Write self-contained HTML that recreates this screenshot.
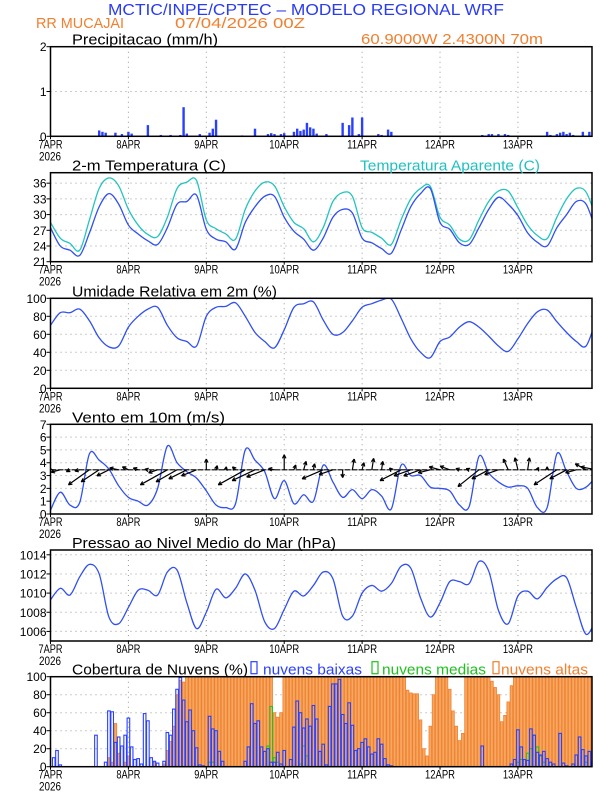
<!DOCTYPE html>
<html><head><meta charset="utf-8"><style>
html,body{margin:0;padding:0;background:#fff}
svg{display:block}
text{font-family:"Liberation Sans",sans-serif}
</style></head><body>
<svg id="c" width="612" height="792" viewBox="0 0 612 792" xmlns="http://www.w3.org/2000/svg">
<text x="108" y="15" font-size="16" fill="#2a3cf0" textLength="396" lengthAdjust="spacingAndGlyphs">MCTIC/INPE/CPTEC – MODELO REGIONAL WRF</text>
<text x="36" y="28" font-size="15" fill="#f08030" textLength="88" lengthAdjust="spacingAndGlyphs">RR MUCAJAI</text>
<text x="175" y="28" font-size="15" fill="#f08030" textLength="130" lengthAdjust="spacingAndGlyphs">07/04/2026 00Z</text>
<text x="361" y="44" font-size="15" fill="#f08030" textLength="182" lengthAdjust="spacingAndGlyphs">60.9000W 2.4300N 70m</text>
<g id="g"></g>
</svg>
<script>
// ---- data ----
const dayLabels = ["7APR","8APR","9APR","10APR","11APR","12APR","13APR"];
const precipHours = [15,16,17,20,22,24,25,30,34,37,40,41,42,46,49,50,51,59,63,67,68,69,71,72,75,76,77,78,79,80,81,82,85,90,92,93,95,96,101,102,104,105,133,135,136,138,140,141,153,154,156,157,158,159,160,161,164,166];
const precipValues = [0.13,0.1,0.08,0.08,0.05,0.1,0.06,0.25,0.03,0.03,0.03,0.65,0.06,0.05,0.08,0.17,0.37,0.02,0.17,0.05,0.07,0.05,0.05,0.07,0.1,0.17,0.12,0.15,0.3,0.2,0.17,0.06,0.05,0.3,0.25,0.42,0.05,0.42,0.05,0.03,0.15,0.1,0.03,0.05,0.05,0.05,0.05,0.03,0.1,0.03,0.05,0.08,0.1,0.05,0.08,0.03,0.1,0.1];
// 3-hourly series (0..168h)
const temp2m = [27.5,24.0,23.2,22.2,26.5,31.5,34.0,32.0, 28.0,26.3,25.0,24.3,27.5,32.0,32.5,33.7, 27.2,25.3,24.8,23.4,28.5,31.5,33.5,33.5, 29.5,26.8,25.3,23.2,25.5,29.5,31.0,30.3, 25.5,24.6,23.5,22.6,27.0,31.5,34.0,35.0, 28.5,27.2,24.6,24.3,27.5,31.0,33.3,32.0, 29.8,26.5,24.7,24.0,27.5,30.0,32.5,32.0,27.0];
const tempApparent = [28.5,25.5,24.5,23.2,29.0,35.0,37.0,35.5, 31.0,28.0,26.2,25.8,29.5,35.0,36.2,36.5, 29.0,27.3,26.3,25.3,31.0,34.5,36.2,35.5, 31.5,28.5,27.3,24.8,27.5,32.5,34.2,33.5, 27.5,26.6,25.5,24.3,29.0,33.0,35.0,35.4, 29.5,28.0,25.3,25.2,29.0,32.5,34.5,34.5, 31.3,28.0,26.0,25.4,29.5,33.0,35.0,34.3,29.5];
const humidity = [70,84,84,88,75,56,46,47, 68,80,88,90,70,56,52,47, 80,90,91,95,80,62,52,45, 65,90,94,96,76,60,62,75, 90,94,98,99,78,55,40,34, 52,57,68,74,68,58,47,41, 55,72,85,87,74,62,52,47,75];
const windSpeed = [0.3,1.7,0.7,0.9,4.7,4.2,3.5,2.2, 1.3,1.0,0.7,2.0,5.3,4.0,3.3,2.8, 1.8,0.7,0.5,0.8,5.0,4.2,3.3,1.2, 2.6,0.8,1.5,1.0,3.8,2.5,1.3,1.9, 1.2,1.9,1.4,0.4,3.8,3.0,3.0,2.1, 2.0,1.8,0.7,0.6,4.5,3.2,2.5,2.1, 2.2,2.0,0.5,0.5,4.7,3.3,2.0,2.1,2.9];
const windU = [-0.2,-1.5,-0.6,-0.8,-3.5,-3,-2,-1.5, -1,-0.8,-0.5,-1.5,-4.5,-3.5,-3,-2.5, 0,0.2,0.1,-0.5,-4.5,-3.8,-3,-1, 0,0.3,0.4,0.2,-3.5,-2.3,0,0.3, 0.3,0.3,0.2,-0.3,-3.5,-2.8,-2.8,-2, -1.8,-1.6,-0.6,-0.5,-3.5,-2.8,-2.3,-0.8, -0.5,0.3,0.2,0,-3.8,-2.8,-1.8,-1.8,-2.5];
const windV = [0.3,-0.4,-0.3,-0.2,-2.5,-2,-1,0.3, 0.5,0.3,0.1,-0.5,-2.5,-2,-1.5,-1, 1.8,0.7,0.5,0.5,-2.5,-1.8,-1.2,0.2, 2.5,0.8,1.4,1,-1.5,-0.8,-1.3,1.8, 1.2,1.9,1.4,0.3,-1.8,-1,-1,-0.5, 0.5,0.6,0.2,0.2,-2.8,-1.5,-0.8,1.8, 2,2,0.4,0.5,-2.5,-1.5,-0.5,1,0.5];
const pressure = [1009.3,1010.5,1009.8,1011.7,1013.0,1012.0,1007.5,1006.8, 1008.5,1010.3,1010.3,1009.8,1012.2,1012.4,1009.0,1006.3, 1008.0,1010.4,1009.5,1010.5,1012.0,1010.3,1007.0,1006.3, 1008.3,1010.2,1009.7,1010.8,1012.2,1011.5,1007.6,1007.6, 1010.0,1010.8,1010.2,1011.0,1012.8,1012.6,1009.5,1007.5, 1009.0,1011.2,1011.2,1011.0,1013.3,1012.3,1008.2,1006.8, 1009.7,1010.2,1009.4,1010.6,1011.5,1011.6,1008.5,1005.7,1007.2];
// hourly cloud cover (%)
const cloudLow = [0,10,18,2,0,0,0,0,0,0,0,0,0,0,35,0,0,5,62,61,27,33,23,35,
 54,22,8,9,3,59,51,10,6,4,0,6,38,35,64,86,99,74,50,63,40,21,2,1,
 0,56,42,40,17,6,0,0,0,0,0,0,6,22,70,48,51,22,17,20,5,5,16,3,
 18,0,8,44,73,60,43,53,45,68,53,17,25,2,67,92,92,97,58,48,71,46,18,20,
 27,31,22,14,16,31,25,9,2,1,0,0,0,0,0,0,0,0,0,0,0,0,0,0,
 0,0,0,0,0,0,0,0,0,0,0,0,0,23,0,0,0,0,0,0,0,0,3,8,
 41,22,8,7,42,35,16,13,17,9,5,3,0,37,4,1,0,3,13,33,19,12,17,5];
const cloudMid = [0,0,0,0,0,0,0,0,0,0,0,0,0,0,0,0,0,0,0,0,0,0,0,0,
 0,0,0,0,0,0,0,0,0,0,0,0,0,0,0,0,0,0,0,0,0,0,0,0,
 0,5,5,0,0,0,0,0,0,0,0,0,0,0,0,0,0,0,0,23,67,10,5,0,
 0,0,0,0,0,3,23,12,0,0,0,0,0,0,0,0,0,0,0,0,0,0,0,0,
 0,0,0,0,0,0,0,0,0,0,0,0,0,0,0,0,0,0,0,0,0,0,0,0,
 0,0,0,0,0,0,0,0,0,0,0,0,0,0,0,0,0,0,0,0,0,0,0,0,
 5,8,8,15,20,35,22,12,5,0,0,0,0,0,0,0,0,0,0,0,0,5,0,0];
const cloudHigh = [0,0,0,0,0,0,0,0,0,0,0,0,0,0,0,0,0,0,10,5,48,15,0,5,
 12,0,0,0,0,0,0,0,5,0,0,3,18,28,45,80,96,94,100,100,100,100,100,100,
 100,100,100,100,100,100,100,100,100,100,100,100,100,100,100,100,100,100,100,100,100,60,55,60,
 100,100,100,100,100,100,100,100,100,100,100,100,100,100,100,100,100,100,100,100,100,100,100,100,
 100,100,100,100,100,100,100,100,100,100,100,100,100,100,85,82,81,81,52,20,12,45,80,100,
 100,100,100,86,62,45,29,37,100,100,100,100,100,100,100,100,95,88,80,50,57,72,90,100,
 100,100,100,100,100,100,100,100,100,100,100,100,100,100,100,100,100,100,100,100,100,100,100,100];

// ---- drawing ----
const NS="http://www.w3.org/2000/svg";
const G=document.getElementById('g');
const X0=50.5, PXH=3.246, XR=592;
function x(h){return X0+h*PXH;}
function mk(tag,attrs,parent){const e=document.createElementNS(NS,tag);for(const k in attrs)e.setAttribute(k,attrs[k]);(parent||G).appendChild(e);return e;}
function yf(p){return v=>p.bot-(v-p.min)/(p.max-p.min)*(p.bot-p.top);}
const panels={
 precip:{top:46.7,bot:136.3,min:0,max:2,ticks:[0,1,2]},
 temp:{top:172.7,bot:261.7,min:21,max:38,ticks:[21,24,27,30,33,36]},
 rh:{top:298.3,bot:388.3,min:0,max:100,ticks:[0,20,40,60,80,100]},
 wind:{top:424.3,bot:514,min:0,max:7,ticks:[0,1,2,3,4,5,6,7]},
 pres:{top:550,bot:641,min:1005,max:1014.5,ticks:[1006,1008,1010,1012,1014]},
 cloud:{top:676.7,bot:766.7,min:0,max:100,ticks:[0,20,40,60,80,100]}
};
let ci=0;
function frame(name,p){
 const Y=yf(p);
 const grp=mk('g',{});
 
 
 const cp=mk('clipPath',{id:'cp'+ci},grp);
 mk('rect',{x:X0,y:p.top,width:XR-X0,height:p.bot-p.top},cp);
 p.clip='url(#cp'+ci+')';ci++;
 p.g=grp;
 for(const t of p.ticks){
  const yy=Y(t);
  if(yy>p.top+1&&yy<p.bot-1){const l=mk('line',{x1:X0,x2:XR,y1:yy,y2:yy,stroke:'#999','stroke-width':1,'stroke-dasharray':'1,4'},grp);
   
   }
  mk('line',{x1:X0-4,x2:X0,y1:yy,y2:yy,stroke:'#000'},grp);
  const tx=mk('text',{x:X0-4,y:yy+4.5,'font-size':12,'text-anchor':'end',fill:'#000'},grp);
  tx.textContent=t;
  
  
 }
 dayLabels.forEach((d,i)=>{
  const xx=x(i*24);
  if(i>0){const l=mk('line',{x1:xx,x2:xx,y1:p.top,y2:p.bot,stroke:'#999','stroke-width':1,'stroke-dasharray':'1,4'},grp);
   
   }
  mk('line',{x1:xx,x2:xx,y1:p.bot,y2:p.bot+3,stroke:'#000'},grp);
  const tx=mk('text',{x:xx-d.length*3,y:p.bot+12,'font-size':12,fill:'#000',textLength:d.length*6,lengthAdjust:'spacingAndGlyphs'},grp);
  tx.textContent=d;
  
  
 });
 const yr=mk('text',{x:39,y:p.bot+24,'font-size':12,fill:'#000',textLength:22,lengthAdjust:'spacingAndGlyphs'},grp);
 yr.textContent='2026';
 
 
 return Y;
}
function border(name,p){
 const r=mk('rect',{x:X0,y:p.top,width:XR-X0,height:p.bot-p.top,fill:'none',stroke:'#000','stroke-width':1.5},p.g);
 
 
}
function title(txt,x0,w,p,color,name){
 const t=mk('text',{x:x0,y:p.top-2,'font-size':15,fill:color||'#000',textLength:w,lengthAdjust:'spacingAndGlyphs'});
 t.textContent=txt;
 
 
}
function line(p,Y,arr,color,name){
 const P=arr.map((v,i)=>[x(i*3),Y(v)]);
 let d='M'+P[0][0].toFixed(2)+','+P[0][1].toFixed(2);
 for(let i=0;i<P.length-1;i++){
  const p0=P[Math.max(0,i-1)],p1=P[i],p2=P[i+1],p3=P[Math.min(P.length-1,i+2)];
  const c1=[p1[0]+(p2[0]-p0[0])/6,p1[1]+(p2[1]-p0[1])/6];
  const c2=[p2[0]-(p3[0]-p1[0])/6,p2[1]-(p3[1]-p1[1])/6];
  d+=' C'+c1[0].toFixed(2)+','+c1[1].toFixed(2)+' '+c2[0].toFixed(2)+','+c2[1].toFixed(2)+' '+p2[0].toFixed(2)+','+p2[1].toFixed(2);
 }
 const l=mk('path',{d:d,fill:'none',stroke:color,'stroke-width':1.3,'clip-path':p.clip},p.g);
 
 
}
// Precip
{const p=panels.precip,Y=frame('precip',p);
 title('Precipitacao (mm/h)',72,146,p,'#000','precip-title');
 precipHours.forEach((h,i)=>{const b=mk('rect',{x:x(h)-1.2,y:Y(precipValues[i]),width:2.4,height:p.bot-Y(precipValues[i]),fill:'#2a40ff'},p.g);
  
  });
 border('precip',p);}
// Temperature
{const p=panels.temp,Y=frame('temp',p);
 title('2-m Temperatura (C)',72,154,p,'#000','temp-title');
 title('Temperatura Aparente (C)',360,180,p,'#20c0c0','apparent-temp-title');
 line(p,Y,tempApparent,'#22c4c0','apparent-temp-line');
 line(p,Y,temp2m,'#3050f0','temp-line');
 border('temp',p);}
// RH
{const p=panels.rh,Y=frame('rh',p);
 title('Umidade Relativa em 2m (%)',72,205,p,'#000','rh-title');
 line(p,Y,humidity,'#3050f0','rh-line');
 border('rh',p);}
// Wind
{const p=panels.wind,Y=frame('wind',p);
 title('Vento em 10m (m/s)',72,153,p,'#000','wind-title');
 line(p,Y,windSpeed,'#3050f0','wind-speed-line');
 const yb=Y(3.45);
 const bl=mk('line',{x1:X0,x2:XR,y1:yb,y2:yb,stroke:'#000','stroke-width':1.2,'stroke-dasharray':'6,1'},p.g);
 
 
 const k=6;
 windU.forEach((u,i)=>{
  const x1=x(i*3),x2=x1+u*k,y2=yb-windV[i]*k;
  const ag=mk('g',{'clip-path':p.clip},p.g);
  
  
  mk('line',{x1:x1,y1:yb,x2:x2,y2:y2,stroke:'#000','stroke-width':1.2},ag);
  const a=Math.atan2(y2-yb,x2-x1),L=Math.hypot(x2-x1,y2-yb);
  if(L>2){for(const s of [-0.45,0.45]){mk('line',{x1:x2,y1:y2,x2:x2-4*Math.cos(a+s),y2:y2-4*Math.sin(a+s),stroke:'#000','stroke-width':1.2},ag);}}
 });
 border('wind',p);}
// Pressure
{const p=panels.pres,Y=frame('pres',p);
 title('Pressao ao Nivel Medio do Mar (hPa)',72,264,p,'#000','pressure-title');
 line(p,Y,pressure,'#3050f0','pressure-line');
 border('pres',p);}
// Clouds
{const p=panels.cloud,Y=frame('cloud',p);
 title('Cobertura de Nuvens (%)',72,176,p,'#000','cloud-title');
 const lg=[[251,263,99,'#2a40ff','nuvens baixas','legend-low-clouds'],[372,382,104,'#20c020','nuvens medias','legend-medium-clouds'],[493,501,87,'#f08030','nuvens altas','legend-high-clouds']];
 for(const [rx,tx,w,c,t,n] of lg){
  const gg=mk('g',{});
  
  
  mk('rect',{x:rx,y:p.top-15,width:6,height:12,fill:'none',stroke:c,'stroke-width':1.2},gg);
  const tt=mk('text',{x:tx,y:p.top-2,'font-size':15,fill:c,textLength:w,lengthAdjust:'spacingAndGlyphs'},gg);
  tt.textContent=t;
 }
 const bw=2.6;
 cloudHigh.forEach((v,h)=>{if(v<=0)return;const b=mk('rect',{x:x(h)-bw/2,y:Y(v),width:bw,height:p.bot-Y(v),fill:'#f6a860',stroke:'#f08030','stroke-width':0.8,'clip-path':p.clip},p.g);
  
  });
 cloudMid.forEach((v,h)=>{if(v<=0)return;const b=mk('rect',{x:x(h)-bw/2,y:Y(v),width:bw,height:p.bot-Y(v),fill:'none',stroke:'#20c020','stroke-width':1,'clip-path':p.clip},p.g);
  
  });
 cloudLow.forEach((v,h)=>{const b=mk('rect',{x:x(h)-bw/2,y:Y(v),width:bw,height:Math.max(0.5,p.bot-Y(v)),fill:'none',stroke:'#2a40ff','stroke-width':1.1,'clip-path':p.clip},p.g);
  
  });
 border('cloud',p);}
</script>
</body></html>
